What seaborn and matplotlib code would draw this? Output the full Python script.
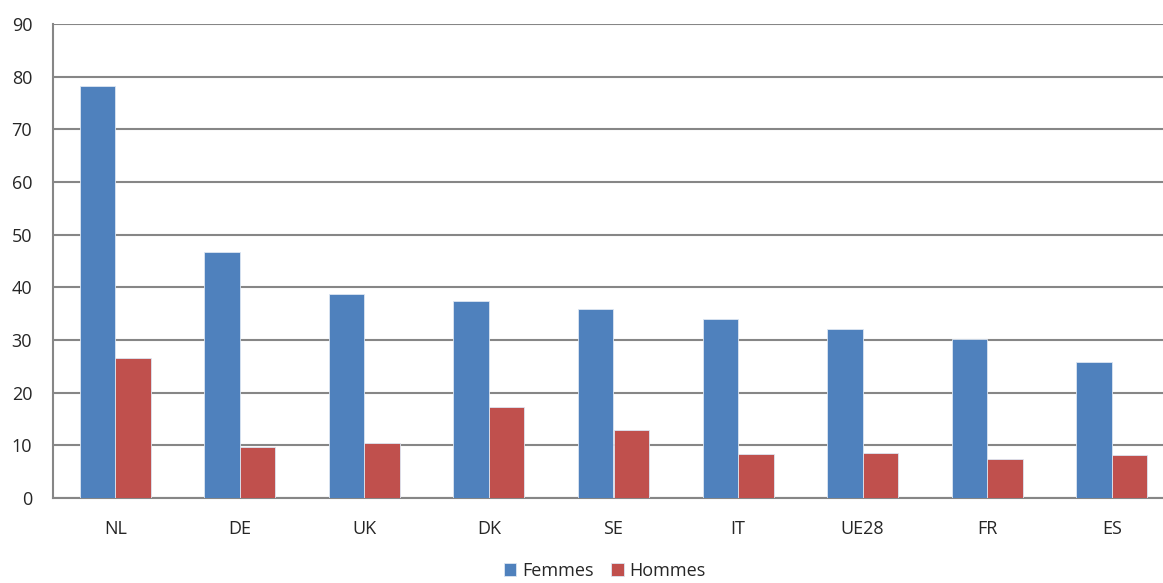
import pandas as pd
import matplotlib
matplotlib.use("Agg")
import matplotlib.pyplot as plt
import seaborn as sns

# Data
countries = ["NL", "DE", "UK", "DK", "SE", "IT", "UE28", "FR", "ES"]
femmes    = [78.3, 46.8, 38.7, 37.4, 35.8, 33.9, 32.1, 30.2, 25.9]
hommes    = [26.5, 9.6, 10.5, 17.2, 13.0, 8.4, 8.6, 7.5, 8.1]
series    = ["Femmes", "Hommes"]
colors    = ["#4F81BD", "#C0504D"]

df = pd.DataFrame({
    "pays": countries * 2,
    "valeur": femmes + hommes,
    "sexe": [series[0]] * len(countries) + [series[1]] * len(countries),
})

sns.set_style("white")
plt.rcParams["font.family"] = ["Open Sans", "DejaVu Sans"]

fig = plt.figure(figsize=(11.63, 5.83), dpi=100)
# plot area runs a bit past the right edge of the picture, like the original
ax = fig.add_axes([53 / 1163, 1 - 498 / 583, 1121 / 1163, (498 - 24) / 583])

sns.barplot(data=df, x="pays", y="valeur", hue="sexe", order=countries,
            hue_order=series, palette=colors, width=0.57, gap=0,
            edgecolor="#dce6f2", linewidth=0.6, saturation=1, ax=ax,
            legend=True, zorder=3)

# grid / axes styling
ax.set_ylim(0, 90)
ax.set_xlim(-0.5, len(countries) - 0.5)
ax.set_yticks(range(0, 91, 10))
ax.yaxis.grid(True, color="#868686", linewidth=1.5, zorder=0)
ax.set_axisbelow(True)
for side in ["top", "right"]:
    ax.spines[side].set_visible(False)
for side in ["left", "bottom"]:
    ax.spines[side].set_color("#868686")
    ax.spines[side].set_linewidth(1.5)

ax.set_xlabel("")
ax.set_ylabel("")
ax.tick_params(axis="x", which="major", length=0, pad=16, labelsize=13)
ax.set_xticks([i - 0.5 for i in range(len(countries) + 1)], minor=True)
ax.tick_params(axis="x", which="minor", length=7, width=1.5, color="#868686")
ax.tick_params(axis="y", length=7, width=1.5, color="#868686", labelsize=13, pad=8)

ax.get_legend().remove()
handles, labels = ax.get_legend_handles_labels()
fig.legend(handles[:2], labels[:2], loc="lower center", bbox_to_anchor=(0.52, -0.022),
           ncol=2, frameon=False, fontsize=13, handlelength=0.7, handleheight=0.7,
           handletextpad=0.3, columnspacing=1.0)

fig.savefig("out.png", dpi=100)
